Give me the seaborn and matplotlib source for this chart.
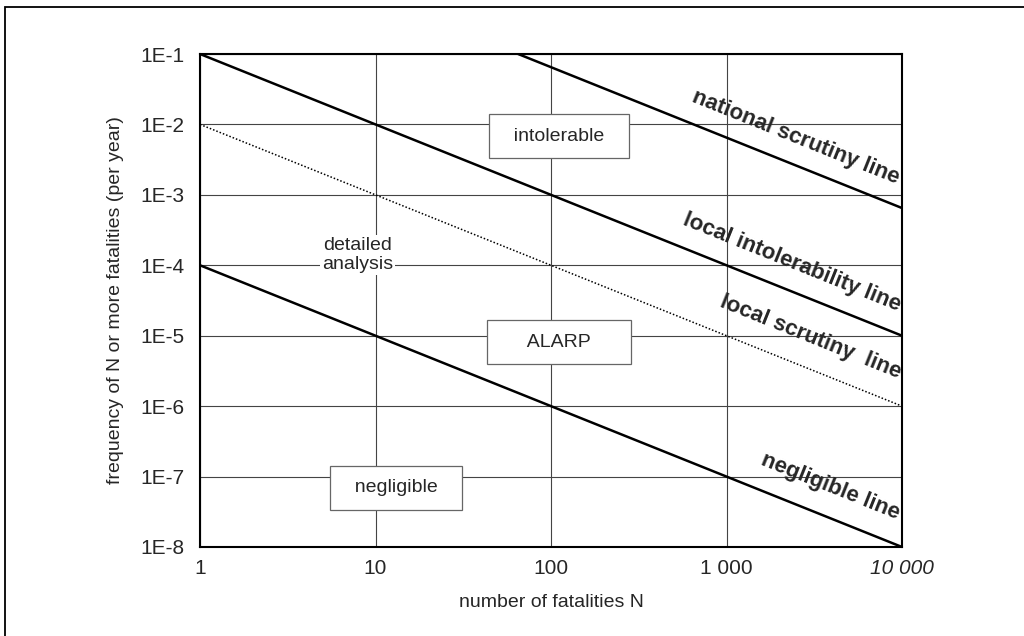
import math
import matplotlib
matplotlib.use('Agg')
import matplotlib.pyplot as plt
from matplotlib.patches import Rectangle
from matplotlib.ticker import FixedLocator, FixedFormatter, NullLocator
import seaborn as sns
import pandas as pd

# axis ticks
x_ticks = [1, 10, 100, 1000, 10000]
x_tick_labels = ['1', '10', '100', '1 000', '10 000']
y_ticks = [1e-1, 1e-2, 1e-3, 1e-4, 1e-5, 1e-6, 1e-7, 1e-8]
y_tick_labels = ['1E-1', '1E-2', '1E-3', '1E-4', '1E-5', '1E-6', '1E-7', '1E-8']

# criterion lines (start / end points)
line_names = ['national scrutiny line', 'local intolerability line',
              'local scrutiny  line', 'negligible line']
line_n_start = [65, 1, 1, 1]
line_n_end = [10000, 10000, 10000, 10000]
line_f_start = [1e-1, 1e-1, 1e-2, 1e-4]
line_f_end = [6.5e-4, 1e-5, 1e-6, 1e-8]
line_styles = ['-', '-', ':', '-']

# where the line names sit
label_n = [2490, 2360, 3020, 3890]
label_f = [6.6e-3, 1.1e-4, 9.5e-6, 7.1e-8]

# region labels
region_text = ['intolerable', 'ALARP', 'negligible']
region_n = [111, 111, 13.1]
region_f = [6.8e-3, 8.1e-6, 6.9e-8]
detail_text = 'detailed\nanalysis'
detail_n = 7.9
detail_f = 1.4e-4

sns.set_style('white')
plt.rcParams['font.family'] = ['Liberation Sans', 'DejaVu Sans']

rows = []
for name, n0, n1, f0, f1 in zip(line_names, line_n_start, line_n_end, line_f_start, line_f_end):
    rows.append({'line': name, 'N': n0, 'F': f0})
    rows.append({'line': name, 'N': n1, 'F': f1})
df = pd.DataFrame(rows)

fig = plt.figure(figsize=(10.24, 6.36), dpi=100)
ax = fig.add_axes([200 / 1024, 1 - 547 / 636, 702 / 1024, 493 / 636])

ax.set_xscale('log')
ax.set_yscale('log')
ax.set_xlim(1, 10000)
ax.set_ylim(1e-8, 1e-1)

for name, ls in zip(line_names, line_styles):
    sub = df[df['line'] == name]
    if ls == ':':
        sns.lineplot(data=sub, x='N', y='F', ax=ax, color='black', lw=1.1,
                     linestyle=(0, (1, 1.3)), zorder=3)
    else:
        sns.lineplot(data=sub, x='N', y='F', ax=ax, color='black', lw=1.8, zorder=3)

ax.xaxis.set_major_locator(FixedLocator(x_ticks))
ax.xaxis.set_major_formatter(FixedFormatter(x_tick_labels))
ax.xaxis.set_minor_locator(NullLocator())
ax.yaxis.set_major_locator(FixedLocator(y_ticks))
ax.yaxis.set_major_formatter(FixedFormatter(y_tick_labels))
ax.yaxis.set_minor_locator(NullLocator())
ax.tick_params(length=0, labelsize=15)
ax.tick_params(axis='x', pad=9)
ax.tick_params(axis='y', pad=11)
ax.get_xticklabels()[-1].set_style('italic')

ax.grid(True, color='#444444', lw=0.8)
ax.set_axisbelow(True)
for sp in ax.spines.values():
    sp.set_color('black')
    sp.set_linewidth(1.5)

ax.set_xlabel('number of fatalities N', fontsize=14, labelpad=11)
ax.set_ylabel('frequency of N or more fatalities (per year)', fontsize=14, labelpad=12)

# rotation that follows the lines on screen
fig.canvas.draw()
p0 = ax.transData.transform((1, 1e-1))
p1 = ax.transData.transform((10000, 1e-5))
angle = math.degrees(math.atan2(p1[1] - p0[1], p1[0] - p0[0]))

for txt, n, f in zip(line_names, label_n, label_f):
    ax.text(n, f, txt, rotation=angle, rotation_mode='anchor', ha='center',
            va='center', fontsize=16, fontweight='bold', zorder=4)

# extra spaces so the boxes come out about as wide as in the original
box_spaces = {'intolerable': 2, 'ALARP': 5, 'negligible': 2}
for txt, n, f in zip(region_text, region_n, region_f):
    pad = ' ' * box_spaces[txt]
    ax.text(n, f, pad + txt + pad, ha='center', va='center', fontsize=14, zorder=4,
            bbox=dict(boxstyle='square,pad=0.7', fc='white', ec='#666666', lw=0.9))

ax.text(detail_n, detail_f, detail_text, ha='center', va='center', fontsize=14,
        linespacing=1.2, zorder=4,
        bbox=dict(boxstyle='square,pad=0.1', fc='white', ec='none'))

# outer frame of the scanned figure
fig.add_artist(Rectangle((5 / 1024, -0.5), 2, 0.5 + (1 - 7 / 636), fill=False,
                         lw=1.3, ec='black', transform=fig.transFigure, clip_on=False))

fig.savefig('out.png', dpi=100)
